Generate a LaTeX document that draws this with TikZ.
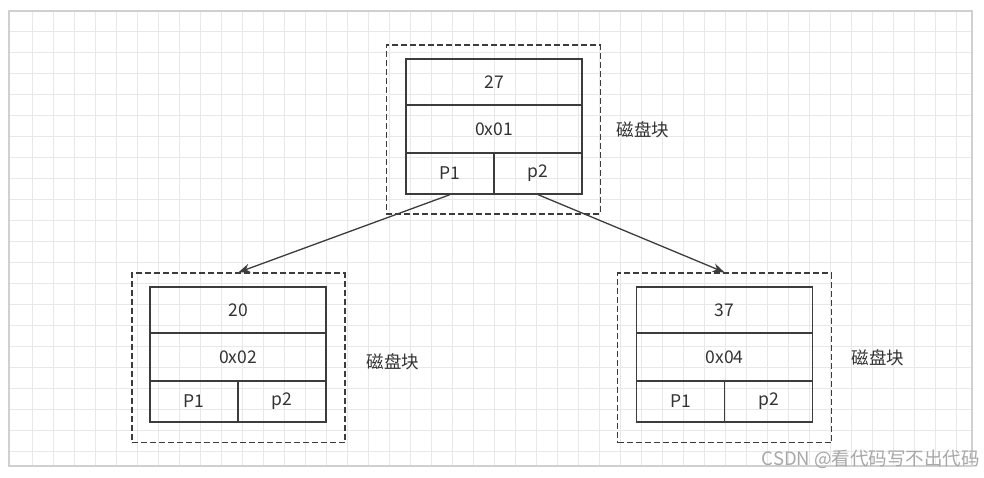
\documentclass[tikz,border=0pt]{standalone}
\usepackage{fontspec}
\setmainfont{Noto Sans CJK SC}
\usepackage{tikz}
\usetikzlibrary{arrows.meta,backgrounds}

\definecolor{linegray}{HTML}{3C3C3C}
\definecolor{textgray}{HTML}{333333}
\definecolor{gridgray}{HTML}{E8E8E8}
\definecolor{framegray}{HTML}{D0D0D0}
\definecolor{markgray}{HTML}{A8A8A8}

\begin{document}
\begin{tikzpicture}[x=1pt,y=-1pt,
	cell/.style={draw=linegray,line width=1.3pt,text=textgray,inner sep=0pt,
		minimum width=176pt,font=\fontsize{17.5}{19}\selectfont},
	half/.style={cell,minimum width=88pt},
	block/.style={draw=linegray,line width=1.3pt,dash pattern=on 6pt off 3pt,
		inner sep=0pt},
	disklabel/.style={text=textgray,font=\fontsize{17.5}{19}\selectfont},
	gridline/.style={draw=gridgray,line width=1pt},
	link/.style={draw=linegray,line width=1.3pt,-{Stealth[length=12pt,width=9pt]}}]
					\useasboundingbox (0,0) rectangle (984,477);
					% background grid
					\fill[white] (0,0) rectangle (984,477);
					\foreach \gx in {32.5,53.5,...,971}
						\draw[gridline] (\gx,11) -- (\gx,466);
					\foreach \gy in {31.5,52.5,...,465}
						\draw[gridline] (9,\gy) -- (972,\gy);
					\draw[framegray,line width=1.2pt] (9,11) rectangle (972,466);
					% top block
					\node[block,minimum width=214pt,minimum height=169pt] (top-block) at (493.25,129.5) {};
					\node[cell,minimum height=46pt] (top-key) at (494,82) {27};
					\node[cell,minimum height=48pt] (top-addr) at (494,129) {0x01};
					\node[half,minimum height=41pt] (top-p1) at (450,173.5) {P1};
					\node[half,minimum height=41pt] (top-p2) at (538,173.5) {p2};
					\node[disklabel] (top-name) at (643,130) {磁盘块};
					% left block
					\node[block,minimum width=213pt,minimum height=169.5pt] (left-block) at (238.35,357.75) {};
					\node[cell,minimum height=46pt] (left-key) at (238,310) {20};
					\node[cell,minimum height=48pt] (left-addr) at (238,357) {0x02};
					\node[half,minimum height=41pt] (left-p1) at (194,401.5) {P1};
					\node[half,minimum height=41pt] (left-p2) at (282,401.5) {p2};
					\node[disklabel] (left-name) at (393,362) {磁盘块};
					% right block
					\node[block,minimum width=214pt,minimum height=169.5pt] (right-block) at (724.5,357.75) {};
					\node[cell,minimum height=46pt] (right-key) at (724.5,310) {37};
					\node[cell,minimum height=48pt] (right-addr) at (724.5,357) {0x04};
					\node[half,minimum height=41pt] (right-p1) at (680.5,401.5) {P1};
					\node[half,minimum height=41pt] (right-p2) at (768.5,401.5) {p2};
					\node[disklabel] (right-name) at (878,358) {磁盘块};
					% pointers
					\draw[link] (top-p1.south) -- (left-block.north);
					\draw[link] (top-p2.south) -- (right-block.north);
					% watermark
					\node[anchor=east,text=markgray,inner sep=0pt,font=\fontsize{18.5}{20}\selectfont] (mark) at (980,459) {CSDN @看代码写不出代码};
				\end{tikzpicture}
\end{document}
